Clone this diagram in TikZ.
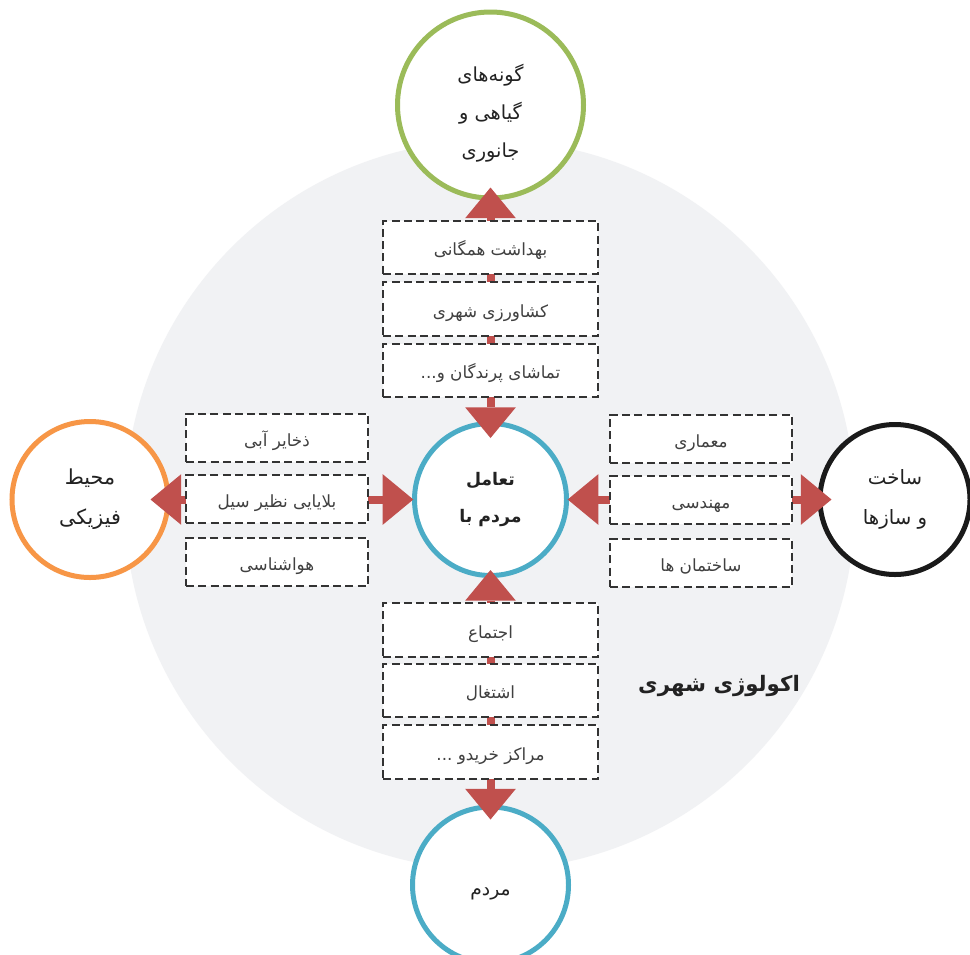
\documentclass[tikz,border=0pt]{standalone}
\usepackage{fontspec}
\usetikzlibrary{arrows.meta}
\TeXXeTstate=1
\newfontfamily\arabicfont[Script=Arabic]{DejaVu Sans}
\definecolor{bggray}{HTML}{F1F2F4}
\definecolor{ringgreen}{HTML}{9BBB59}
\definecolor{ringorange}{HTML}{F79646}
\definecolor{ringblue}{HTML}{4BACC6}
\definecolor{ringblack}{HTML}{1A1A1A}
\definecolor{arrowred}{HTML}{C0504D}
\definecolor{txt}{HTML}{222222}
\definecolor{boxtxt}{HTML}{404040}
\definecolor{boxline}{HTML}{333333}
\pgfdeclarelayer{bg}
\pgfdeclarelayer{arr}
\pgfsetlayers{bg,arr,main}
\tikzset{
  ring/.style={circle, draw, line width=3.75pt, fill=white, inner sep=0pt, align=center, text=txt,
    font=\arabicfont\fontsize{15}{30}\selectfont},
  dbox/.style={rectangle, draw=boxline, dash pattern=on 6pt off 3.2pt, line width=1.4pt, fill=white,
    text=boxtxt, inner sep=0pt, text height=12pt, text depth=0pt, font=\arabicfont\fontsize{12.6}{14}\selectfont},
  vbox/.style={dbox, minimum width=161pt, minimum height=40pt},
  hbox/.style={dbox, minimum width=136.5pt, minimum height=36.5pt},
  link/.style={draw=arrowred, line width=6pt,
    arrows={Triangle[width=38pt,length=23pt,line width=0pt]-Triangle[width=38pt,length=23pt,line width=0pt]}},
  title/.style={text=txt, font=\arabicfont\bfseries\fontsize{16}{19}\selectfont}
}
\begin{document}
\begin{tikzpicture}[x=0.75pt,y=-0.75pt]
\useasboundingbox (0,0) rectangle (970,954);
\begin{pgfonlayer}{bg}
  \fill[white] (0,0) rectangle (970,954);
  \fill[bggray] (490,505) circle[radius=273.75pt];
  \node[ring, draw=ringgreen, minimum size=139.5pt, align=none, font=\arabicfont\fontsize{14.5}{28.5}\selectfont] (green) at (490.5,105)
    {\raisebox{-5.5pt}[\height][\depth]{\begin{tabular}{@{}c@{}}\beginR گونه^^^^200cهای\endR\\\beginR گیاهی و\endR\\\beginR جانوری\endR\end{tabular}}};
  \node[ring, draw=ringorange, minimum size=117pt, font=\arabicfont\fontsize{15.5}{30}\selectfont] (phys) at (90,499.5)
    {\beginR محیط\endR\\\beginR فیزیکی\endR};
  \node[ring, draw=ringblack, minimum size=112.5pt, font=\arabicfont\fontsize{14.8}{30}\selectfont] (build) at (895,499.5)
    {\beginR ساخت\endR\\\beginR و سازها\endR};
  \node[ring, draw=ringblue, minimum size=114pt, font=\arabicfont\bfseries\fontsize{13}{28}\selectfont] (inter) at (490.5,499.5)
    {\beginR تعامل\endR\\\beginR مردم با\endR};
  \node[ring, draw=ringblue, minimum size=117pt, align=none, font=\arabicfont\fontsize{14}{17}\selectfont] (people) at (490.5,885)
    {\raisebox{-7pt}[\height][\depth]{\beginR مردم\endR}};
\end{pgfonlayer}

\begin{pgfonlayer}{arr}
  \draw[link, shorten <=-9.75pt, shorten >=-12.75pt] (green.south) -- (inter.north);
  \draw[link, shorten <=-15pt, shorten >=-1pt] (phys.east) -- (inter.west);
  \draw[link, shorten <=-1pt, shorten >=-10.5pt] (inter.east) -- (build.west);
  \draw[link, shorten <=-6pt, shorten >=-11.25pt] (inter.south) -- (people.north);
\end{pgfonlayer}

% top column
\node[vbox] (t1) at (490.5,247.5) {\beginR بهداشت همگانی\endR};
\node[vbox] (t2) at (490.5,309) {\beginR کشاورزی شهری\endR};
\node[vbox] (t3) at (490.5,370.5) {\beginR تماشای پرندگان و...\endR};
% bottom column
\node[vbox] (b1) at (490.5,630) {\beginR اجتماع\endR};
\node[vbox] (b2) at (490.5,690.5) {\beginR اشتغال\endR};
\node[vbox] (b3) at (490.5,752) {\beginR مراکز خریدو ...\endR};
% left column
\node[hbox] (l1) at (277,438) {\beginR ذخایر آبی\endR};
\node[hbox] (l2) at (277,499) {\beginR بلایایی نظیر سیل\endR};
\node[hbox] (l3) at (277,562) {\beginR هواشناسی\endR};
% right column
\node[hbox] (r1) at (701,439) {\beginR معماری\endR};
\node[hbox] (r2) at (701,500) {\beginR مهندسی\endR};
\node[hbox] (r3) at (701,563) {\beginR ساختمان ها\endR};

\node[title] (eco) at (719,686) {\beginR اکولوژی شهری\endR};
\end{tikzpicture}
\end{document}
